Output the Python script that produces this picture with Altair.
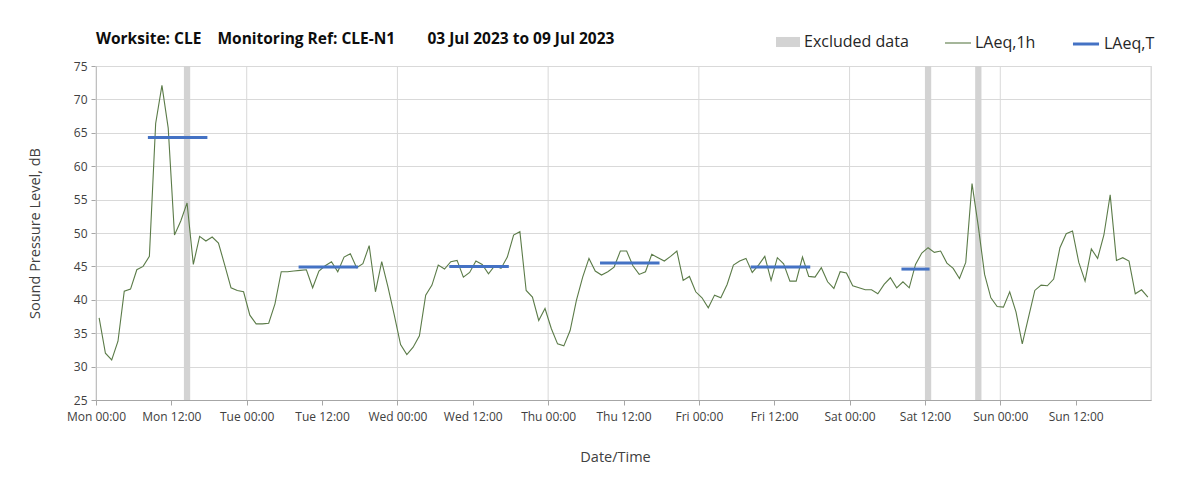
import altair as alt
import pandas as pd

# ---------------- data ----------------
start_time = "2023-07-03 00:30"   # first hourly value (hour-period centre)

laeq_1h = [
    37.3, 32.0, 31.0, 33.8, 41.3, 41.6, 44.5, 45.0, 46.5, 66.4, 72.1, 65.7,
    49.7, 51.8, 54.5, 45.3, 49.5, 48.8, 49.4, 48.5, 45.2, 41.8, 41.4, 41.2,
    37.7, 36.4, 36.4, 36.5, 39.4, 44.2, 44.2, 44.3, 44.4, 44.5, 41.8, 44.3,
    45.1, 45.7, 44.2, 46.4, 46.9, 44.8, 45.4, 48.1, 41.2, 45.7, 41.9, 37.7,
    33.3, 31.8, 32.9, 34.6, 40.7, 42.2, 45.2, 44.6, 45.7, 45.9, 43.4, 44.1,
    45.8, 45.3, 43.9, 45.1, 44.7, 46.4, 49.7, 50.2, 41.4, 40.4, 36.9, 38.7,
    35.7, 33.4, 33.1, 35.4, 39.9, 43.4, 46.2, 44.3, 43.7, 44.2, 44.9, 47.3,
    47.3, 45.1, 43.8, 44.2, 46.8, 46.3, 45.8, 46.5, 47.3, 42.9, 43.5, 41.2,
    40.3, 38.8, 40.7, 40.3, 42.3, 45.2, 45.8, 46.2, 44.1, 45.2, 46.5, 42.9,
    46.3, 45.4, 42.8, 42.8, 46.4, 43.5, 43.4, 44.8, 42.7, 41.7, 44.2, 44.0,
    42.1, 41.8, 41.5, 41.5, 40.9, 42.3, 43.3, 41.8, 42.7, 41.8, 45.3, 47.0,
    47.8, 47.1, 47.3, 45.5, 44.7, 43.2, 45.6, 57.4, 51.0, 43.8, 40.3, 39.0,
    38.9, 41.2, 38.2, 33.4, 37.4, 41.4, 42.2, 42.1, 43.1, 47.8, 49.9, 50.3,
    45.6, 42.8, 47.6, 46.2, 49.7, 55.7, 45.9, 46.3, 45.8, 40.9, 41.5, 40.4,
]

# LAeq,T daytime periods
lt_start = ["2023-07-03 08:30", "2023-07-04 08:30", "2023-07-05 08:30",
            "2023-07-06 08:30", "2023-07-07 08:30", "2023-07-08 08:30"]
lt_end = ["2023-07-03 17:30", "2023-07-04 17:30", "2023-07-05 17:30",
          "2023-07-06 17:30", "2023-07-07 17:30", "2023-07-08 12:30"]
lt_value = [64.3, 44.9, 45.0, 45.5, 44.9, 44.6]

# Excluded periods
ex_start = ["2023-07-03 14:00", "2023-07-08 12:00", "2023-07-08 20:00"]
ex_end = ["2023-07-03 15:00", "2023-07-08 13:00", "2023-07-08 21:00"]

# axis ticks (every 12 h) and day boundaries (vertical gridlines)
tick_hours = list(range(0, 168, 12))
day_hours = list(range(0, 169, 24))

title_parts = ["Worksite: CLE", "Monitoring Ref: CLE-N1", "03 Jul 2023 to 09 Jul 2023"]

# ---------------- tables ----------------
t0 = pd.Timestamp("2023-07-03 00:00")
times = pd.date_range(start_time, periods=len(laeq_1h), freq="h")
hourly_df = pd.DataFrame({"time": times, "value": laeq_1h, "series": "LAeq,1h"})

rows = []
for i, (s, e, v) in enumerate(zip(lt_start, lt_end, lt_value)):
    rows.append({"time": pd.Timestamp(s), "value": v, "series": "LAeq,T", "seg": f"t{i}"})
    rows.append({"time": pd.Timestamp(e), "value": v, "series": "LAeq,T", "seg": f"t{i}"})
lt_df = pd.DataFrame(rows)

ex_df = pd.DataFrame({
    "start": pd.to_datetime(ex_start),
    "end": pd.to_datetime(ex_end),
    "label": ["Excluded data"] * len(ex_start),
})
days_df = pd.DataFrame({"day": [t0 + pd.Timedelta(hours=h) for h in day_hours]})

tick_values = [
    alt.DateTime(year=2023, month=7, date=3 + h // 24, hours=h % 24)
    for h in tick_hours
]

NBSP = "\u00a0"
title_text = title_parts[0] + NBSP * 4 + title_parts[1] + NBSP * 8 + title_parts[2]

FONT = "Open Sans"
W, H = 1055, 334

x_scale = alt.Scale(
    domain=[alt.DateTime(year=2023, month=7, date=3, hours=0),
            alt.DateTime(year=2023, month=7, date=10, hours=0)],
    nice=False,
)
y_scale = alt.Scale(domain=[25, 75], nice=False, zero=False)

x_axis = alt.Axis(
    title="Date/Time",
    format="%a %H:%M",
    values=tick_values,
    labelFontSize=12,
    labelColor="#404040",
    labelPadding=6,
    labelFlush=False,
    tickSize=5,
    tickColor="#a6a6a6",
    domainColor="#a6a6a6",
    grid=False,
    titleFontSize=14.5,
    titleFontWeight="normal",
    titleColor="#404040",
    titlePadding=28,
    titleX=519,
    labelOverlap=False,
)

y_axis = alt.Axis(
    title="Sound Pressure Level, dB",
    values=list(range(25, 80, 5)),
    labelFontSize=12,
    labelColor="#404040",
    labelPadding=4,
    tickSize=5,
    tickColor="#a6a6a6",
    domainColor="#a6a6a6",
    gridColor="#d9d9d9",
    titleFontSize=14.5,
    titleFontWeight="normal",
    titleColor="#404040",
    titlePadding=31,
)

leg_common = dict(
    title=None, orient="none", direction="horizontal",
    labelFontSize=16, labelFont=FONT, labelColor="#262626",
)

daylines = alt.Chart(days_df).mark_rule(color="#d9d9d9", strokeWidth=1).encode(
    x=alt.X("day:T", scale=x_scale, axis=x_axis),
)

bands = alt.Chart(ex_df).mark_rect(opacity=1).encode(
    x=alt.X("start:T", scale=x_scale, axis=x_axis),
    x2="end:T",
    fill=alt.Fill(
        "label:N",
        scale=alt.Scale(domain=["Excluded data"], range=["#d3d3d3"]),
        legend=alt.Legend(
            legendX=680, legendY=-36,
            symbolType="M-1,-0.42L1,-0.42L1,0.42L-1,0.42Z", symbolSize=576,
            symbolStrokeWidth=0, labelOffset=4, **leg_common,
        ),
    ),
)

hourly = alt.Chart(hourly_df).mark_line(strokeWidth=1.1).encode(
    x=alt.X("time:T", scale=x_scale, axis=x_axis),
    y=alt.Y("value:Q", scale=y_scale, axis=y_axis),
    stroke=alt.Stroke(
        "series:N",
        scale=alt.Scale(domain=["LAeq,1h"], range=["#5b7b48"]),
        legend=alt.Legend(
            legendX=848, legendY=-37, symbolType="stroke", symbolSize=680,
            symbolStrokeWidth=1.1, labelOffset=3, **leg_common,
        ),
    ),
)

ltlines = alt.Chart(lt_df).mark_line(strokeWidth=3, strokeCap="square").encode(
    x=alt.X("time:T", scale=x_scale, axis=x_axis),
    y=alt.Y("value:Q", scale=y_scale, axis=y_axis),
    color=alt.Color(
        "series:N",
        scale=alt.Scale(domain=["LAeq,T"], range=["#4472C4"]),
        legend=alt.Legend(
            legendX=975, legendY=-37, symbolType="stroke", symbolSize=680,
            symbolStrokeWidth=3, labelOffset=3, **leg_common,
        ),
    ),
    detail="seg:N",
)

chart = alt.layer(daylines, bands, hourly, ltlines).properties(
    width=W,
    height=H,
    title=alt.TitleParams(
        title_text,
        anchor="start", frame="group", fontSize=15.5, font=FONT,
        fontWeight="bold", color="#0d0d0d", offset=20, dy=38,
    ),
    autosize=alt.AutoSizeParams(type="none"),
    padding={"left": 88, "top": 58, "right": 44, "bottom": 84},
).configure_view(
    stroke="#a6a6a6", strokeWidth=1,
).configure(
    font=FONT, background="white",
)

chart.save("out.html", embed_options={"renderer": "svg", "actions": False})
